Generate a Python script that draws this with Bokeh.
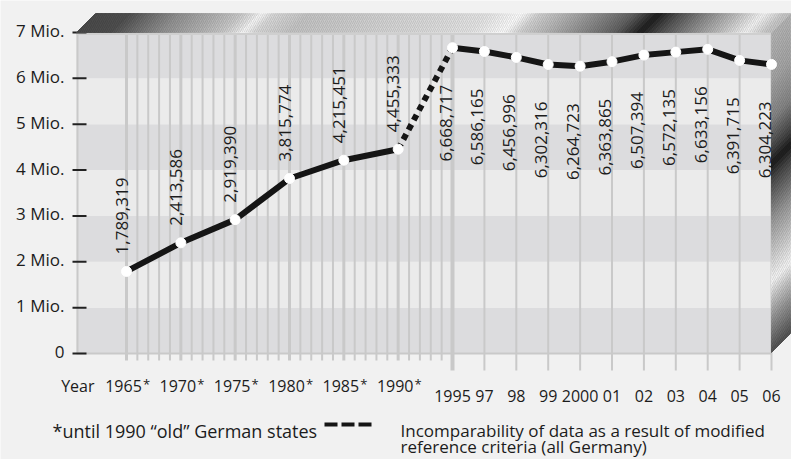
import numpy as np
from bokeh.plotting import figure
from bokeh.models import Range1d
from bokeh.core.properties import value
from bokeh.embed import file_html
from bokeh.resources import INLINE

# ---------------- data ----------------
years_old = [1965, 1970, 1975, 1980, 1985, 1990]
members_old = [1789319, 2413586, 2919390, 3815774, 4215451, 4455333]
years_new = [1995, 1997, 1998, 1999, 2000, 2001, 2002, 2003, 2004, 2005, 2006]
members_new = [6668717, 6586165, 6456996, 6302316, 6264723, 6363865,
               6507394, 6572135, 6633156, 6391715, 6304223]
old_tick_labels = ["1965", "1970", "1975", "1980", "1985", "1990"]
new_tick_labels = ["1995", "97", "98", "99", "2000", "01", "02", "03", "04", "05", "06"]
y_ticks = [0, 1000000, 2000000, 3000000, 4000000, 5000000, 6000000, 7000000]
y_tick_labels = ["0", "1 Mio.", "2 Mio.", "3 Mio.", "4 Mio.", "5 Mio.", "6 Mio.", "7 Mio."]
axis_title = "Year"
footnote = "*until 1990 \u201cold\u201d German states"
legend_lines = ["Incomparability of data as a result of modified",
                "reference criteria (all Germany)"]

# ---------------- layout helpers ----------------
STEP_NEW = 2.9355          # width of one slot after 1995, in years of the early scale
PX_X0, PX_PER_YEAR = 126.0, 10.867
PX_Y0, PX_PER_UNIT = 353.0, 45.857 / 1e6
W, H = 791, 459


def slot(year):
    return year - 1965 if year <= 1995 else 30 + (year - 1996) * STEP_NEW


def X(px):
    return (px - PX_X0) / PX_PER_YEAR


def Y(py):
    return (PX_Y0 - py) / PX_PER_UNIT


FONT = value("Open Sans")
TXT = "#1c1c1c"
BG = "#f1f1f1"

p = figure(width=W, height=H,
           x_range=Range1d(X(0), X(W)), y_range=Range1d(Y(H), Y(0)),
           output_backend="svg", toolbar_location=None,
           x_axis_location=None, y_axis_location=None,
           min_border_left=0, min_border_right=0, min_border_top=0, min_border_bottom=0,
           background_fill_color=BG, border_fill_color=BG, outline_line_color=None)
p.grid.visible = False

# ---------------- plot area ----------------
x_end = slot(2006)
band_colors = ["#dcdcde" if i % 2 == 0 else "#ebebeb" for i in range(len(y_ticks) - 1)]
p.quad(left=X(76), right=x_end, bottom=y_ticks[:-1], top=y_ticks[1:],
       fill_color=band_colors, line_color=None)

grid_years = list(range(1965, 1996)) + years_new[1:]
gx = [slot(y) for y in grid_years]
gw = [4 if y == 1995 else (3 if (y % 5 == 0 and y < 1995) else 2) for y in grid_years]
gb = [Y(370) if y >= 1995 else Y(360) for y in grid_years]
p.segment(x0=gx, x1=gx, y0=gb, y1=y_ticks[-1], line_width=gw, line_color="#c9c9c9")

# frame edges
p.segment(x0=[X(77), X(76)], x1=[X(77), x_end], y0=[0, 0], y1=[y_ticks[-1], 0],
          line_width=2, line_color="#c9c9c9")
p.segment(x0=X(76), x1=x_end, y0=Y(33), y1=Y(33), line_width=3, line_color="#cfcfcf")

# y axis: tick marks and labels
p.segment(x0=X(72), x1=X(86), y0=y_ticks, y1=y_ticks, line_width=2, line_color="#222222")
p.text(x=X(64), y=y_ticks, text=y_tick_labels, text_align="right", text_baseline="middle",
       y_offset=-2, text_font=FONT, text_font_size="17px", text_color=TXT)


# ---------------- 3D metallic border ----------------
def interp_colors(pos, keys, cols):
    rgb = np.array([[int(c[i:i + 2], 16) for i in (1, 3, 5)] for c in cols], float)
    out = []
    for q in pos:
        r = [np.interp(q, keys, rgb[:, k]) for k in range(3)]
        out.append("#%02x%02x%02x" % tuple(int(round(v)) for v in r))
    return out


# right side (vertical gradient)
side_keys = [13, 60, 100, 130, 145, 160, 200, 240, 262, 280, 300, 333]
side_cols = ["#b4b4b4", "#a4a4a4", "#848484", "#454545", "#1a1a1a", "#454545",
             "#959595", "#d2d2d2", "#f4f4f4", "#c2c2c2", "#939393", "#505050"]
ys_top = np.arange(13, 333, 4.0)
s_cols = interp_colors(ys_top + 2, side_keys, side_cols)
s_xs, s_ys = [], []
for ya in ys_top:
    yb = min(ya + 4, 333)
    s_xs.append([X(771), X(790), X(790), X(771)])
    s_ys.append([Y(ya + 19), Y(ya), Y(yb), Y(yb + 19)])
p.patches(s_xs, s_ys, fill_color=s_cols, line_color=s_cols, line_width=1)

# top band (diagonal gradient)
top_keys = [76, 110, 130, 160, 200, 222, 236, 243, 255, 290, 330, 380, 420, 470, 503,
            520, 550, 590, 615, 640, 660, 690, 720, 745, 765, 790]
top_cols = ["#4a4a4a", "#4e4e4e", "#6a6a6a", "#909090", "#b2b2b2", "#c8c8c8", "#e2e2e2",
            "#f6f6f6", "#d8d8d8", "#c4c4c4", "#cacaca", "#d4d4d4", "#dadada", "#e4e4e4",
            "#fafafa", "#d0d0d0", "#b0b0b0", "#808080", "#606060", "#1e1e1e", "#505050",
            "#8a8a8a", "#c0c0c0", "#f2f2f2", "#c8c8c8", "#b8b8b8"]
xs_left = np.arange(76, 771, 4.0)
t_cols = interp_colors(xs_left + 2, top_keys, top_cols)
t_xs, t_ys = [], []
for xa in xs_left:
    xb = min(xa + 4, 771)
    t_xs.append([X(xa), X(xb), X(xb + 19), X(xa + 19)])
    t_ys.append([Y(32), Y(32), Y(13), Y(13)])
p.patches(t_xs, t_ys, fill_color=t_cols, line_color=t_cols, line_width=1)

# diagonal texture
p.patch([X(76), X(771), X(790), X(95)], [Y(32), Y(32), Y(13), Y(13)],
        fill_alpha=0, line_alpha=0, hatch_pattern="/", hatch_color="black",
        hatch_alpha=0.10, hatch_scale=4, hatch_weight=1)
p.patch([X(771), X(790), X(790), X(771)], [Y(32), Y(13), Y(333), Y(352)],
        fill_alpha=0, line_alpha=0, hatch_pattern="/", hatch_color="black",
        hatch_alpha=0.10, hatch_scale=4, hatch_weight=1)

# ---------------- data series ----------------
x_old = [slot(y) for y in years_old]
x_new = [slot(y) for y in years_new]
LINE = "#151515"
p.line(x_old, members_old, line_width=6, line_color=LINE, line_join="round")
p.line([x_old[-1], x_new[0]], [members_old[-1], members_new[0]],
       line_width=6, line_color=LINE, line_dash="6 5")
p.line(x_new, members_new, line_width=6, line_color=LINE, line_join="round")
p.scatter(x_old + x_new, members_old + members_new, size=10,
          fill_color="white", line_color="white")

# value labels
p.text(x=x_old, y=members_old, text=[f"{v:,}" for v in members_old],
       angle=np.pi / 2, text_align="left", text_baseline="middle",
       x_offset=-5, y_offset=-17,
       text_font=FONT, text_font_size="17px", text_color=TXT)
p.text(x=x_new, y=members_new, text=[f"{v:,}" for v in members_new],
       angle=np.pi / 2, text_align="right", text_baseline="middle",
       x_offset=-7, y_offset=37,
       text_font=FONT, text_font_size="17px", text_color=TXT)

# x tick labels
p.text(x=x_old, y=Y(385), text=old_tick_labels, text_align="center",
       text_baseline="alphabetic", x_offset=-3,
       text_font=FONT, text_font_size="16px", text_color=TXT)
p.text(x=x_old, y=Y(383), text=["*"] * len(x_old), text_align="center",
       text_baseline="alphabetic", x_offset=20,
       text_font=FONT, text_font_size="13px", text_color=TXT)
p.text(x=x_new, y=Y(395), text=new_tick_labels, text_align="center",
       text_baseline="alphabetic",
       text_font=FONT, text_font_size="16px", text_color=TXT)
p.text(x=[X(94)], y=[Y(385)], text=[axis_title], text_align="right",
       text_baseline="alphabetic", text_font=FONT, text_font_size="16px", text_color=TXT)

# footnotes / legend
p.text(x=[X(52)], y=[Y(430)], text=[footnote], text_align="left",
       text_baseline="alphabetic", text_font=FONT, text_font_size="18px", text_color=TXT)
p.line([X(324), X(371)], [Y(424), Y(424)], line_width=4, line_color=LINE,
       line_dash="13 4")
p.text(x=[X(400), X(400)], y=[Y(430), Y(446)], text=legend_lines, text_align="left",
       text_baseline="alphabetic", text_font=FONT, text_font_size="17px", text_color=TXT)

open("out.html", "w").write(file_html(p, INLINE))
